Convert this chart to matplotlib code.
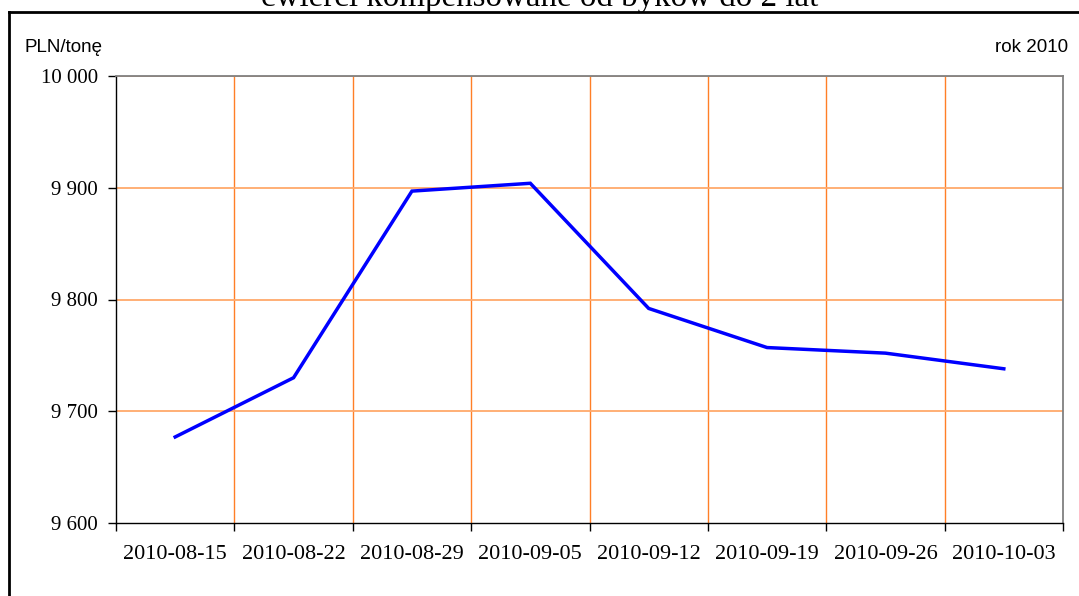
import numpy as np
import matplotlib.pyplot as plt
from matplotlib.lines import Line2D
from matplotlib.ticker import FuncFormatter

# dane
dates = ['2010-08-15', '2010-08-22', '2010-08-29', '2010-09-05',
         '2010-09-12', '2010-09-19', '2010-09-26', '2010-10-03']
prices = [9677, 9730, 9897, 9904, 9792, 9757, 9752, 9738]
yticks = [9600, 9700, 9800, 9900, 10000]

title = 'ćwierci kompensowane od byków do 2 lat'

W, H = 1079, 596
fig = plt.figure(figsize=(W / 100, H / 100), dpi=100)
ax = fig.add_axes([116 / W, 1 - 523 / H, (1063 - 116) / W, (523 - 76) / H])

x = np.arange(len(dates))
ax.plot(x, prices, color='#0000FF', lw=2.5, solid_joinstyle='miter', zorder=3)

ax.set_xlim(-0.5, len(dates) - 0.5)
ax.set_ylim(yticks[0], yticks[-1])

# siatka: pionowe na granicach kategorii, poziome na podzialkach
for b in np.arange(-0.5, len(dates) - 0.4, 1)[1:-1]:
    ax.axvline(b, color='#FF7F27', lw=1.0, zorder=1)
for v in yticks[1:]:
    ax.axhline(v, color='#FFA96B', lw=1.3, zorder=1)

ax.set_xticks(np.arange(-0.5, len(dates), 1))
ax.set_xticklabels([])
ax.set_xticks(x, minor=True)
ax.set_xticklabels(dates, minor=True, fontsize=16, family='Liberation Serif')
ax.tick_params(axis='x', which='minor', length=0, pad=16)
ax.tick_params(axis='x', which='major', direction='out', length=6, width=1, color='black')

ax.set_yticks(yticks)
ax.yaxis.set_major_formatter(FuncFormatter(lambda v, p: f'{int(v):,}'.replace(',', ' ')))
ax.tick_params(axis='y', direction='out', length=6, width=1, color='black', pad=7)
for lab in ax.get_yticklabels():
    lab.set_family('Liberation Serif')
    lab.set_fontsize(15)

for s in ['left', 'bottom']:
    ax.spines[s].set_color('black')
    ax.spines[s].set_linewidth(1.0)
for s in ['top', 'right']:
    ax.spines[s].set_color('#808080')
    ax.spines[s].set_linewidth(1.3)

fig.text(25 / W, 1 - 47 / H, 'PLN/tonę', fontsize=13.5, family='Liberation Sans',
         ha='left', va='center')
fig.text(1068 / W, 1 - 47 / H, 'rok 2010', fontsize=13.5, family='Liberation Sans',
         ha='right', va='center')

# tytul przyciety u gory, jak w oryginale
fig.text(540 / W, 1 - 6 / H, title, fontsize=23.8, family='Liberation Serif',
         ha='center', va='baseline')

# ramka
fig.add_artist(Line2D([9 / W, 9 / W], [0, 1 - 12 / H], color='black', lw=2,
                      transform=fig.transFigure))
fig.add_artist(Line2D([9 / W, 1], [1 - 12 / H, 1 - 12 / H], color='black', lw=2,
                      transform=fig.transFigure))

fig.savefig('out.png', dpi=100)
